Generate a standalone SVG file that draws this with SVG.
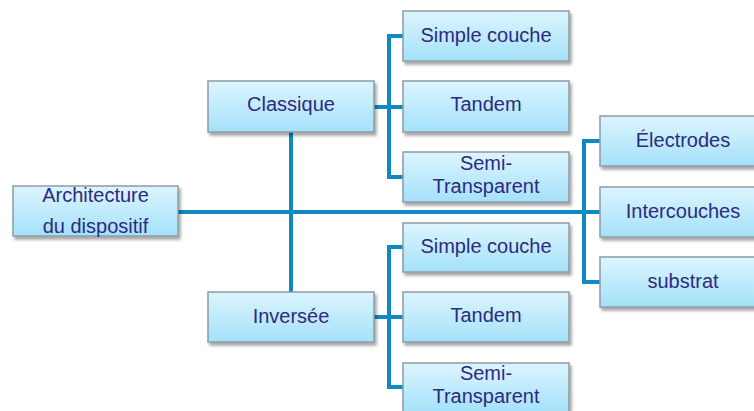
<svg xmlns="http://www.w3.org/2000/svg" width="754" height="411" viewBox="0 0 754 411">
  <defs>
    <linearGradient id="boxGrad" x1="0" y1="0" x2="0" y2="1">
      <stop offset="0" stop-color="#dcf5fe"/>
      <stop offset="1" stop-color="#a4e1f9"/>
    </linearGradient>
    <filter id="shadow" x="-10%" y="-20%" width="130%" height="160%">
      <feDropShadow dx="2" dy="3" stdDeviation="1.8" flood-color="#000" flood-opacity="0.35"/>
    </filter>
  </defs>
  <style>
    .box { fill: url(#boxGrad); stroke: #8c9ba6; stroke-width: 1.5; filter: url(#shadow); }
    .lbl { font-family: "Liberation Sans", Arial, sans-serif; font-size: 20px; fill: #2e2a80; text-anchor: middle; }
    .conn { stroke: #0f89c2; stroke-width: 4; fill: none; stroke-linecap: butt; }
  </style>
  <rect width="754" height="411" fill="#ffffff"/>

  <g id="connectors">
    <line class="conn" x1="178" y1="212" x2="600" y2="212"/>
    <line class="conn" x1="291" y1="132" x2="291" y2="292"/>
    <line class="conn" x1="374" y1="107" x2="389" y2="107"/>
    <polyline class="conn" points="403,36 389,36 389,177 403,177"/>
    <line class="conn" x1="389" y1="107" x2="403" y2="107"/>
    <line class="conn" x1="374" y1="317" x2="389" y2="317"/>
    <polyline class="conn" points="403,247 389,247 389,387 403,387"/>
    <line class="conn" x1="389" y1="317" x2="403" y2="317"/>
    <polyline class="conn" points="600,141 584,141 584,282 600,282"/>
  </g>

  <g id="architecture">
    <rect class="box" x="13" y="186" width="165" height="50"/>
    <text class="lbl" x="95.5" y="202">Architecture</text>
    <text class="lbl" x="95.5" y="233">du dispositif</text>
  </g>

  <g id="classique">
    <rect class="box" x="208" y="81" width="166" height="51"/>
    <text class="lbl" x="291" y="111">Classique</text>
  </g>

  <g id="inversee">
    <rect class="box" x="208" y="292" width="166" height="50"/>
    <text class="lbl" x="291" y="323">Inversée</text>
  </g>

  <g id="c-simple">
    <rect class="box" x="403" y="11" width="166" height="50"/>
    <text class="lbl" x="486" y="42">Simple couche</text>
  </g>
  <g id="c-tandem">
    <rect class="box" x="403" y="81" width="166" height="51"/>
    <text class="lbl" x="486" y="111">Tandem</text>
  </g>
  <g id="c-semi">
    <rect class="box" x="403" y="152" width="166" height="50"/>
    <text class="lbl" x="486" y="170">Semi-</text>
    <text class="lbl" x="486" y="193">Transparent</text>
  </g>

  <g id="i-simple">
    <rect class="box" x="403" y="223" width="166" height="49"/>
    <text class="lbl" x="486" y="253">Simple couche</text>
  </g>
  <g id="i-tandem">
    <rect class="box" x="403" y="292" width="166" height="50"/>
    <text class="lbl" x="486" y="322">Tandem</text>
  </g>
  <g id="i-semi">
    <rect class="box" x="403" y="363" width="166" height="50"/>
    <text class="lbl" x="486" y="380">Semi-</text>
    <text class="lbl" x="486" y="403">Transparent</text>
  </g>

  <g id="electrodes">
    <rect class="box" x="600" y="116" width="166" height="50"/>
    <text class="lbl" x="683" y="147">Électrodes</text>
  </g>
  <g id="intercouches">
    <rect class="box" x="600" y="187" width="166" height="50"/>
    <text class="lbl" x="683" y="218">Intercouches</text>
  </g>
  <g id="substrat">
    <rect class="box" x="600" y="257" width="166" height="50"/>
    <text class="lbl" x="683" y="288">substrat</text>
  </g>
</svg>
